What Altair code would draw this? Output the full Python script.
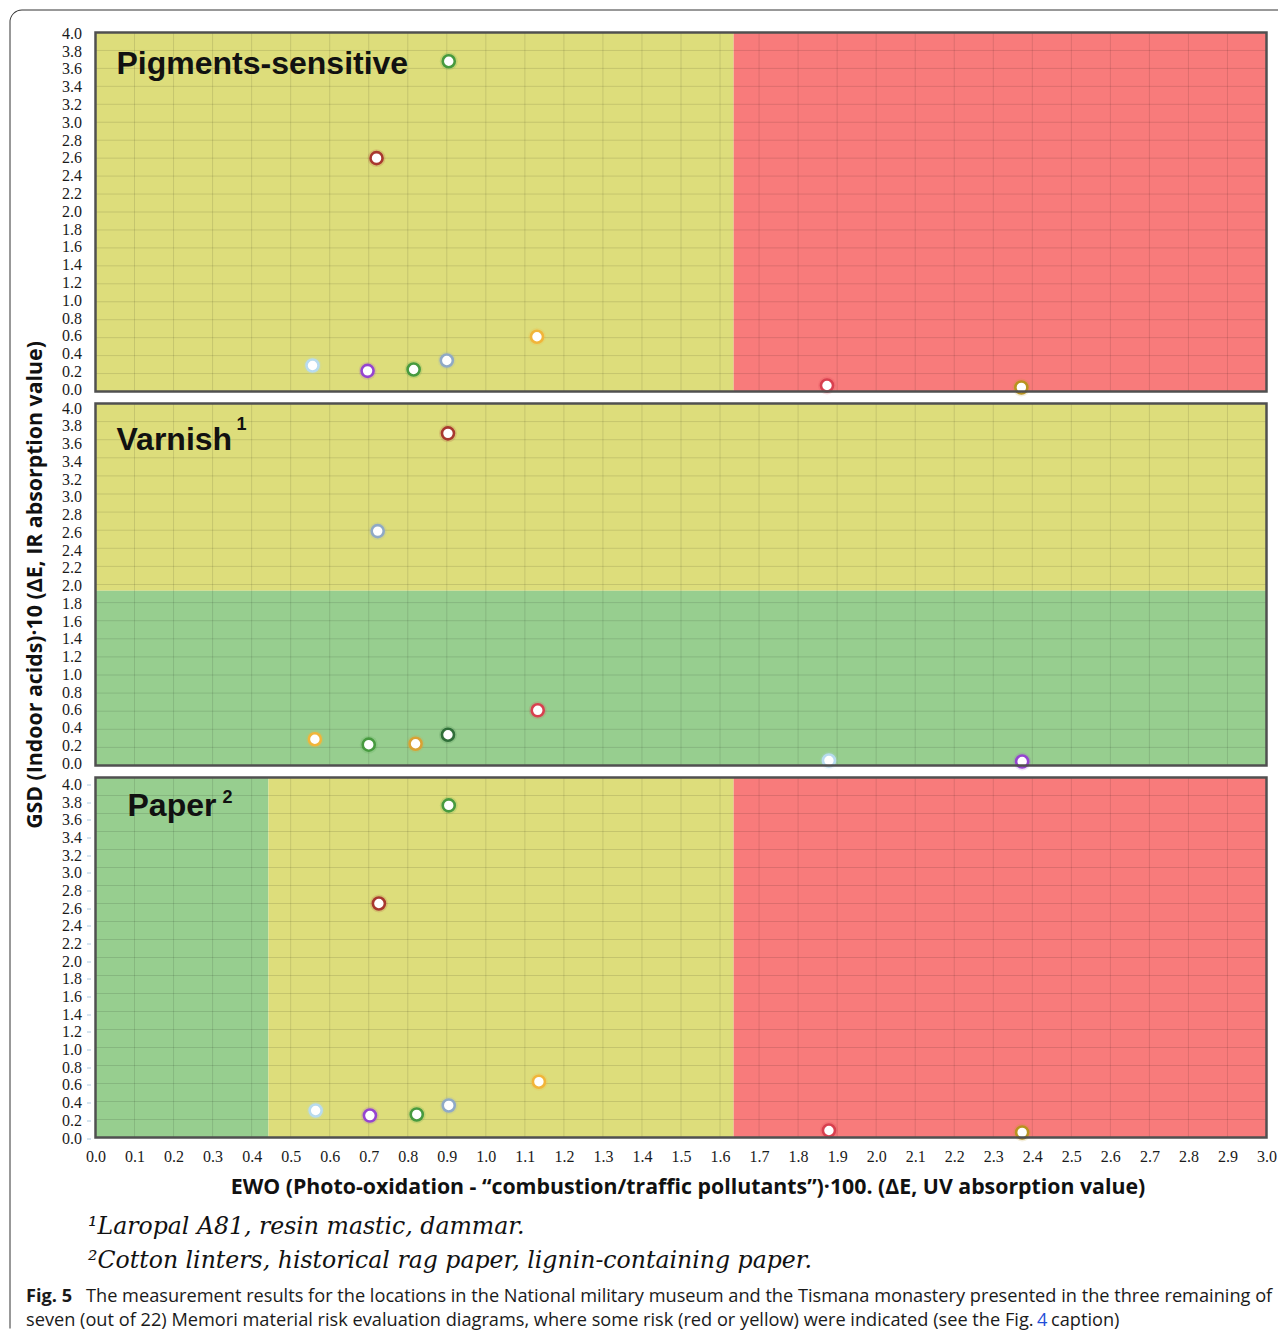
import altair as alt
import pandas as pd

# ---------------- data ----------------
x_ticks = [0.0, 0.1, 0.2, 0.3, 0.4, 0.5, 0.6, 0.7, 0.8, 0.9, 1.0, 1.1, 1.2, 1.3, 1.4, 1.5,
           1.6, 1.7, 1.8, 1.9, 2.0, 2.1, 2.2, 2.3, 2.4, 2.5, 2.6, 2.7, 2.8, 2.9, 3.0]
y_ticks = [0.0, 0.2, 0.4, 0.6, 0.8, 1.0, 1.2, 1.4, 1.6, 1.8, 2.0, 2.2, 2.4, 2.6, 2.8, 3.0,
           3.2, 3.4, 3.6, 3.8, 4.0]
x_grid = x_ticks[1:-1]
y_grid = y_ticks[1:-1]

GREEN = "#479a3f"
DARKRED = "#a8382f"
PALEBLUE = "#b7dbef"
PURPLE = "#9544d0"
GRAYBLUE = "#8fa9c6"
ORANGE = "#f1b53a"
RED = "#d8404f"
GOLD = "#b8931f"
DARKGREEN = "#2f6e38"
AMBER = "#d9a234"

YELLOW = "#dddd7b"
PINK = "#f87b7b"
LGREEN = "#97ce8f"

# Panel 1: Pigments-sensitive
p1_x = [0.905, 0.72, 0.556, 0.697, 0.815, 0.90, 1.131, 1.874, 2.372]
p1_y = [3.68, 2.60, 0.29, 0.23, 0.245, 0.345, 0.61, 0.067, 0.045]
p1_c = [GREEN, DARKRED, PALEBLUE, PURPLE, GREEN, GRAYBLUE, ORANGE, RED, GOLD]
p1_reg_x = [0.0, 1.635]
p1_reg_x2 = [1.635, 3.0]
p1_reg_y = [0.0, 0.0]
p1_reg_y2 = [4.0, 4.0]
p1_reg_f = [YELLOW, PINK]

# Panel 2: Varnish
p2_x = [0.903, 0.723, 0.562, 0.70, 0.82, 0.903, 1.133, 1.879, 2.374]
p2_y = [3.67, 2.59, 0.29, 0.23, 0.24, 0.34, 0.61, 0.055, 0.044]
p2_c = [DARKRED, GRAYBLUE, ORANGE, GREEN, AMBER, DARKGREEN, RED, PALEBLUE, PURPLE]
p2_reg_x = [0.0, 0.0]
p2_reg_x2 = [3.0, 3.0]
p2_reg_y = [1.93, 0.0]
p2_reg_y2 = [4.0, 1.93]
p2_reg_f = [YELLOW, LGREEN]

# Panel 3: Paper
p3_x = [0.905, 0.726, 0.564, 0.703, 0.823, 0.905, 1.136, 1.879, 2.374]
p3_y = [3.69, 2.60, 0.30, 0.244, 0.256, 0.356, 0.62, 0.078, 0.056]
p3_c = [GREEN, DARKRED, PALEBLUE, PURPLE, GREEN, GRAYBLUE, ORANGE, RED, GOLD]
p3_reg_x = [0.0, 0.443, 1.635]
p3_reg_x2 = [0.443, 1.635, 3.0]
p3_reg_y = [0.0, 0.0, 0.0]
p3_reg_y2 = [4.0, 4.0, 4.0]
p3_reg_f = [LGREEN, YELLOW, PINK]

x_title = "EWO (Photo-oxidation - \u201ccombustion/traffic pollutants\u201d)\u00b7100. (\u0394E, UV absorption value)"
y_title = "GSD (Indoor acids)\u00b710 (\u0394E, IR absorption value)"
foot1 = "\u00b9Laropal A81, resin mastic, dammar."
foot2 = "\u00b2Cotton linters, historical rag paper, lignin-containing paper."
cap_bold = "Fig. 5"
cap_l1 = "The measurement results for the locations in the National military museum and the Tismana monastery presented in the three remaining of"
cap_l2a = "seven (out of 22) Memori material risk evaluation diagrams, where some risk (red or yellow) were indicated (see the Fig."
cap_l2b = "4"
cap_l2c = "caption)"

# ---------------- layout ----------------
W = 1171
H1, H2, H3 = 359, 362, 360
SERIF = "Liberation Serif"
SANS = "Open Sans"

xscale = alt.Scale(domain=[0, 3], nice=False, zero=False)
yscale = alt.Scale(domain=[0, 4], nice=False, zero=False)


def y_axis(ticks):
    return alt.Axis(values=y_ticks, format=".1f", orient="left", labelFont=SERIF,
                    labelFontSize=16, labelColor="#1a1a1a", domain=False, ticks=ticks,
                    tickColor="#a9c8de", tickSize=4 if ticks else 0,
                    offset=5 if ticks else 0, grid=False,
                    labelPadding=5 if ticks else 14, labelOverlap=False,
                    labelFlush=False, title=None)


x_axis_full = alt.Axis(values=x_ticks, format=".1f", labelFont=SERIF, labelFontSize=16,
                       labelColor="#1a1a1a", domain=False, ticks=False, grid=False,
                       labelPadding=11, labelOverlap=False, labelFlush=False, title=None)


def txt(text, x, y, size, font=SANS, weight="normal", style="normal", color="#111",
        align="left", baseline="alphabetic", angle=0):
    kw = dict(align=align, baseline=baseline, font=font, fontWeight=weight,
              fontStyle=style, fontSize=size, color=color)
    if angle:
        kw["angle"] = angle
    return alt.Chart(pd.DataFrame({"t": [text]})).mark_text(**kw).encode(
        x=alt.value(x), y=alt.value(y), text="t:N")


def panel(px, py, pc, rx, rx2, ry, ry2, rf, h, xaxis, ticks, lab_top, lab_bot, extras):
    X = alt.X("x:Q", scale=xscale, axis=xaxis)
    Y = alt.Y("y:Q", scale=yscale, axis=None)
    reg = pd.DataFrame({"x": rx, "x2": rx2, "y": ry, "y2": ry2, "f": rf})
    pts = pd.DataFrame({"x": px, "y": py, "c": pc})
    rects = alt.Chart(reg).mark_rect().encode(
        x=X, x2="x2:Q", y=Y, y2="y2:Q", fill=alt.Fill("f:N", scale=None))
    vgrid = alt.Chart(pd.DataFrame({"x": x_grid})).mark_rule(
        color="#000", opacity=0.11, strokeWidth=1).encode(x=X)
    hgrid = alt.Chart(pd.DataFrame({"y": y_grid})).mark_rule(
        color="#000", opacity=0.11, strokeWidth=1).encode(y=Y)
    halo = alt.Chart(pts).mark_circle(size=320, opacity=0.16).encode(
        x=X, y=Y, color=alt.Color("c:N", scale=None))
    points = alt.Chart(pts).mark_point(shape="circle", filled=True, fill="white",
                                       fillOpacity=1, opacity=1, strokeWidth=2.6,
                                       size=145).encode(
        x=X, y=Y, stroke=alt.Stroke("c:N", scale=None))
    border = alt.Chart(pd.DataFrame({"a": [0]})).mark_rect(
        fillOpacity=0, stroke="#505050", strokeWidth=2.5).encode(
        x=alt.value(0), x2=alt.value(W), y=alt.value(0), y2=alt.value(h))
    # tick-label layer: the printed labels sit on a slightly compressed scale
    labels = alt.Chart(pd.DataFrame({"y": y_ticks})).mark_point(opacity=0).encode(
        y=alt.Y("y:Q", scale=alt.Scale(domain=[0, 4], range=[lab_bot, lab_top],
                                       nice=False, zero=False),
                axis=y_axis(ticks)))
    return alt.layer(rects, vgrid, hgrid, halo, points, border, *extras, labels).resolve_scale(
        y="independent").properties(width=W, height=h)


TITLE_KW = dict(size=32, font="Liberation Sans", weight="bold", color="#111")
SUP_KW = dict(size=18, font="Liberation Sans", weight="bold", color="#111")

# outer rounded frame (top-left corner, top edge, left edge) - relative to panel 1
frame_data = pd.DataFrame({"a": [0]})
frame_top = alt.Chart(frame_data).mark_rule(color="#333", strokeWidth=1).encode(
    x=alt.value(-73.5), x2=alt.value(1182.5), y=alt.value(-22.5))
frame_left = alt.Chart(frame_data).mark_rule(color="#333", strokeWidth=1).encode(
    x=alt.value(-85.5), y=alt.value(-10.5), y2=alt.value(1296))
frame_corner = alt.Chart(frame_data).mark_arc(
    radius=12.5, radius2=11.5, theta=4.712389, theta2=6.283185, color="#333").encode(
    x=alt.value(-73.5), y=alt.value(-10.5))

p1_extras = [frame_top, frame_left, frame_corner,
             txt("Pigments-sensitive", 21, 41, **TITLE_KW)]

p2_extras = [txt("Varnish", 21, 46, **TITLE_KW),
             txt("1", 141, 26, **SUP_KW),
             txt(y_title, -59.5, 181.5, 21.3, weight="bold", align="center",
                 baseline="middle", angle=270)]

CAP = 18.2
p3_extras = [
    txt("Paper", 32, 38, **TITLE_KW),
    txt("2", 127, 25, **SUP_KW),
    txt(x_title, 592.5, 410.5, 21.3, weight="bold", align="center", baseline="middle"),
    txt(foot1, -7.5, 456.5, 23.6, font="DejaVu Serif", style="italic", color="#111"),
    txt(foot2, -7.5, 490, 23.6, font="DejaVu Serif", style="italic", color="#111"),
    txt(cap_bold, -69.5, 524.5, CAP, weight="bold", color="#1a1a1a"),
    txt(cap_l1, -9.5, 524.5, CAP, color="#1a1a1a"),
    txt(cap_l2a, -69.5, 548.5, CAP, color="#1a1a1a"),
    txt(cap_l2b, 941.5, 548.5, CAP, color="#1f4fd8"),
    txt(cap_l2c, 955.5, 548.5, CAP, color="#1a1a1a"),
]

pan1 = panel(p1_x, p1_y, p1_c, p1_reg_x, p1_reg_x2, p1_reg_y, p1_reg_y2, p1_reg_f,
             H1, None, False, 0.8, 356.8, p1_extras)
pan2 = panel(p2_x, p2_y, p2_c, p2_reg_x, p2_reg_x2, p2_reg_y, p2_reg_y2, p2_reg_f,
             H2, None, False, 4.5, 359.5, p2_extras)
pan3 = panel(p3_x, p3_y, p3_c, p3_reg_x, p3_reg_x2, p3_reg_y, p3_reg_y2, p3_reg_f,
             H3, x_axis_full, True, 7.0, 360.5, p3_extras)

chart = alt.vconcat(pan1, pan2, pan3, spacing=12, bounds="flush").properties(
    padding={"left": 1.5, "top": 1.5, "right": 0, "bottom": 0},
    background="white",
).configure_view(strokeWidth=0)

chart.save("out.html", embed_options={"renderer": "svg", "actions": False})
